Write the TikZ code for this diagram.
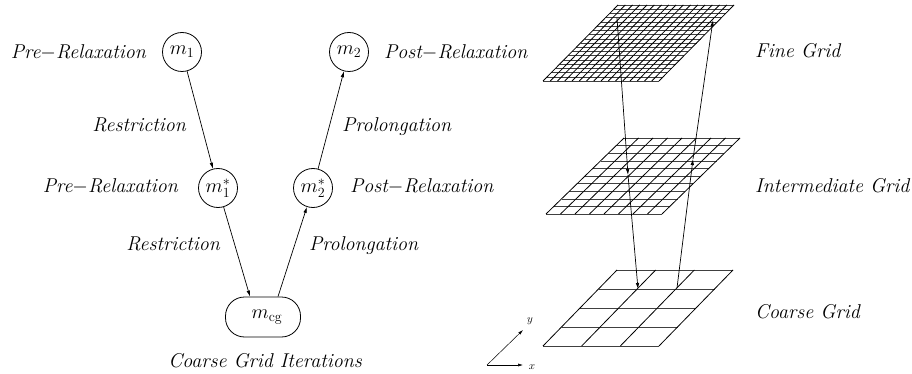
\RequirePackage{fix-cm}
\documentclass[tikz,border=0pt]{standalone}
\usetikzlibrary{arrows.meta}

\tikzset{
  state/.style={circle, draw, line width=0.8pt, minimum size=39pt, inner sep=0pt,
                font=\fontsize{20}{22}\selectfont},
  cgbox/.style={draw, rounded corners=19pt, line width=0.8pt, minimum width=75pt,
                minimum height=40pt, inner sep=0pt, font=\fontsize{20}{22}\selectfont},
  lbl/.style={font=\fontsize{20}{24}\selectfont\itshape, inner sep=0pt},
  axlbl/.style={font=\fontsize{11}{13}\selectfont\itshape, inner sep=0pt},
  flow/.style={-{Latex[length=6pt,width=3.5pt]}, line width=0.7pt},
  gridline/.style={line width=0.8pt},
  rowline/.style={line width=0.5pt, black!75},
}

% one grid level: lower-left x, lower-left y, shear, columns, rows
\newcommand\layergrid[5]{%
  \begin{scope}[shift={(#1,#2)}, x={(116pt,0pt)}, y={(#3pt,76pt)}]
    \foreach \j in {0,...,#5} \draw[rowline] (0,\j/#5) -- (1,\j/#5);
    \foreach \i in {0,...,#4} \draw[gridline] (\i/#4,0) -- (\i/#4,1);
  \end{scope}}

\begin{document}
\begin{tikzpicture}[x=1pt,y=-1pt]
  \useasboundingbox (0,0) rectangle (912,374);

  % ---------------- V-cycle ----------------
  \node[state] (m1)  at (182,52)  {$m_1$};
  \node[state] (m2)  at (349,52)  {$m_2$};
  \node[state] (m1s) at (218,188) {$m^*_1$};
  \node[state] (m2s) at (313,188) {$m^*_2$};
  \node[cgbox] (mcg) at (263,317) {\hspace{8pt}$m_{\mathrm{cg}}$};

  \draw[flow] (m1) -- (m1s);
  \draw[flow] (m1s) -- ([xshift=-13pt]mcg.north);
  \draw[flow] ([xshift=15pt]mcg.north) -- (m2s);
  \draw[flow] (m2s) -- (m2);

  \node[lbl, anchor=base east] (pre1)  at (146,59)  {Pre$-$Relaxation};
  \node[lbl, anchor=base west] (post1) at (384,59)  {Post$-$Relaxation};
  \node[lbl, anchor=base east] (res1)  at (186,132) {Restriction};
  \node[lbl, anchor=base west] (pro1)  at (342,132) {Prolongation};
  \node[lbl, anchor=base east] (pre2)  at (178,193) {Pre$-$Relaxation};
  \node[lbl, anchor=base west] (post2) at (350,193) {Post$-$Relaxation};
  \node[lbl, anchor=base east] (res2)  at (220,250) {Restriction};
  \node[lbl, anchor=base west] (pro2)  at (309,250) {Prolongation};
  \node[lbl, anchor=base]      (cgi)   at (265,367) {Coarse Grid Iterations};

  % ---------------- grid hierarchy ----------------
  \layergrid{543}{81}{75}{16}{18}
  \layergrid{546}{214}{78}{8}{10}
  \layergrid{543}{346}{74}{3}{4}

  \coordinate (f1) at (617,18);
  \coordinate (i1) at (628,175);
  \coordinate (c1) at (638,289);
  \coordinate (c2) at (677,288);
  \coordinate (i2) at (693,159);
  \coordinate (f2) at (713,20);
  \draw[flow] (f1) -- (i1);
  \draw[flow] (i1) -- (c1);
  \draw[flow] (c2) -- (i2);
  \draw[flow] (i2) -- (f2);

  \node[lbl, anchor=base west] (fg) at (755,58)  {Fine Grid};
  \node[lbl, anchor=base west] (ig) at (755,193) {Intermediate Grid};
  \node[lbl, anchor=base west] (cg) at (755,318) {Coarse Grid};

  % axes
  \coordinate (o)  at (487,365);
  \coordinate (ax) at (523,365);
  \coordinate (ay) at (523,330);
  \draw[-{Latex[length=5pt,width=3pt]}, line width=0.5pt] (o) -- (ax);
  \draw[-{Latex[length=5pt,width=3pt]}, line width=0.5pt] (o) -- (ay);
  \node[axlbl] (xl) at (532,367) {$x$};
  \node[axlbl] (yl) at (530,321) {$y$};
\end{tikzpicture}
\end{document}
